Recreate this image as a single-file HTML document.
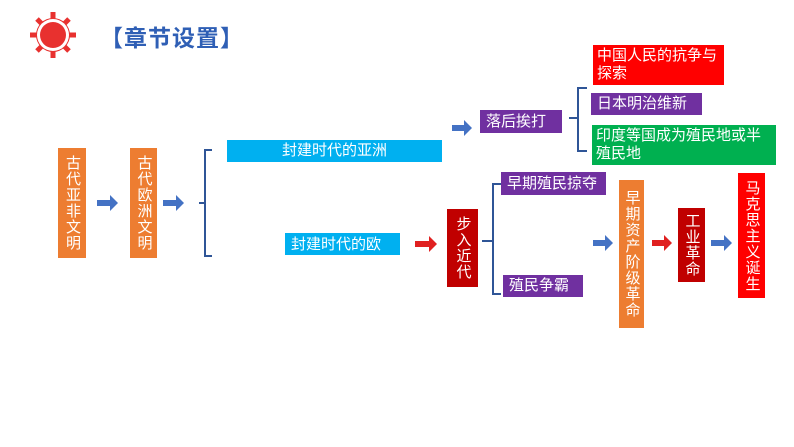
<!DOCTYPE html>
<html><head><meta charset="utf-8"><style>
body{margin:0;width:794px;height:447px;background:#fff;position:relative;overflow:hidden;font-family:"Liberation Sans","Noto Sans CJK SC",sans-serif}
.b{position:absolute;color:#fff;font-size:14px;line-height:18px;box-sizing:border-box}
.v{writing-mode:vertical-rl;display:flex;align-items:center;justify-content:center;font-size:15px;line-height:26px;letter-spacing:1px}
.o{background:#ed7d31}.c{background:#00b0f0}.p{background:#7030a0}.r{background:#c00000}.rr{background:#ff0000}.g{background:#00b050}
svg{position:absolute;left:0;top:0}
</style></head><body>
<svg width="794" height="447">
<g fill="#e8312f">
<circle cx="53" cy="35" r="17"/>
<g stroke="#e8312f" stroke-width="5">
<line x1="53" y1="12" x2="53" y2="58"/><line x1="30" y1="35" x2="76" y2="35"/>
<line x1="37" y1="19" x2="69" y2="51"/><line x1="69" y1="19" x2="37" y2="51"/></g>
<circle cx="53" cy="35" r="16" fill="#fff"/><circle cx="53" cy="35" r="13"/></g>
<g fill="none" stroke="#2f5597" stroke-width="2">
<path d="M212 150 H205 V203 H199 M205 203 V256 H212"/>
<path d="M501 184 H493 V241 H482 M493 241 V294 H501"/>
<path d="M587 88 H578 V118 H569 M578 118 V151 H587"/></g>
<g fill="#4472c4">
<path d="M97 200h13v-5l8 8-8 8v-5h-13z"/><path d="M163 200h13v-5l8 8-8 8v-5h-13z"/>
<path d="M452 125h12v-5l8 8-8 8v-5h-12z"/><path d="M593 240h12v-5l8 8-8 8v-5h-12z"/>
<path d="M711 240h13v-5l8 8-8 8v-5h-13z"/></g>
<g fill="#e02020"><path d="M415 241h14v-5l8 8-8 8v-5h-14z"/><path d="M652 240h12v-5l8 8-8 8v-5h-12z"/></g>
</svg>
<div style="position:absolute;left:100px;top:19px;font-size:23px;font-weight:bold;color:#2f5fb5;letter-spacing:1px">【章节设置】</div>
<div class="b o v" style="left:58px;top:148px;width:28px;height:110px">古代亚非文明</div>
<div class="b o v" style="left:130px;top:148px;width:27px;height:110px">古代欧洲文明</div>
<div class="b c" style="left:227px;top:140px;width:215px;height:22px;text-align:center;line-height:22px;font-size:15px">封建时代的亚洲</div>
<div class="b c" style="left:285px;top:233px;width:115px;height:22px;padding:2px 0 0 6px;line-height:20px;overflow:hidden;font-size:15px;word-break:break-all;padding-right:10px">封建时代的欧洲</div>
<div class="b r v" style="left:447px;top:209px;width:31px;height:78px">步入近代</div>
<div class="b p" style="left:501px;top:172px;width:105px;height:23px;padding-left:6px;line-height:23px;font-size:15px">早期殖民掠夺</div>
<div class="b p" style="left:503px;top:275px;width:80px;height:22px;padding-left:6px;line-height:22px;font-size:15px">殖民争霸</div>
<div class="b o v" style="left:619px;top:180px;width:25px;height:148px;line-height:22px">早期资产阶级革命</div>
<div class="b r v" style="left:678px;top:208px;width:27px;height:74px">工业革命</div>
<div class="b rr v" style="left:738px;top:173px;width:27px;height:125px;line-height:22px">马克思主义诞生</div>
<div class="b p" style="left:480px;top:110px;width:82px;height:23px;padding-left:6px;line-height:23px;font-size:15px">落后挨打</div>
<div class="b rr" style="left:593px;top:45px;width:131px;height:40px;padding:2px 4px;font-size:15px">中国人民的抗争与探索</div>
<div class="b p" style="left:591px;top:93px;width:111px;height:22px;padding-left:6px;line-height:22px;font-size:15px">日本明治维新</div>
<div class="b g" style="left:592px;top:125px;width:184px;height:40px;padding:2px 4px;font-size:15px">印度等国成为殖民地或半殖民地</div>
</body></html>
